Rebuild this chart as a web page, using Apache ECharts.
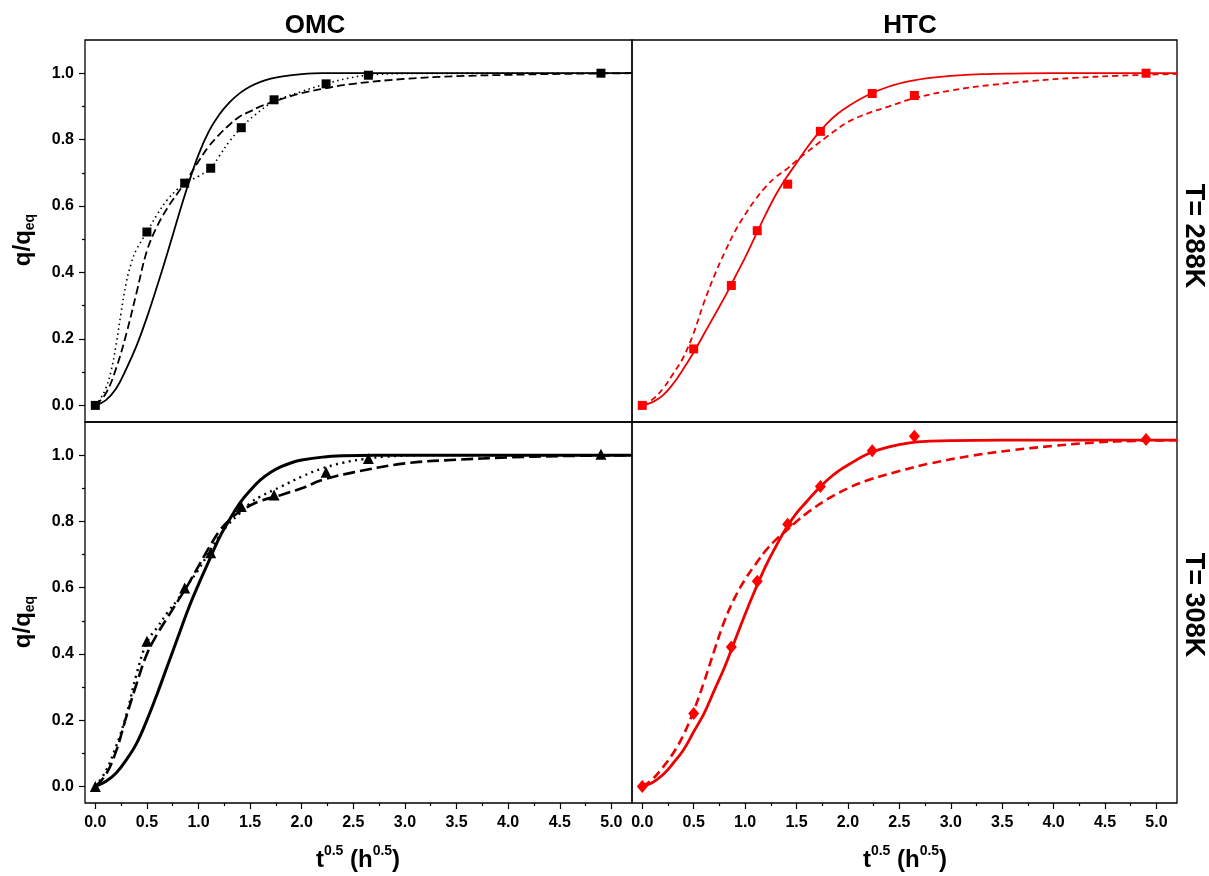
<!DOCTYPE html>
<html>
<head>
<meta charset="utf-8">
<script src="https://cdn.jsdelivr.net/npm/echarts@6/dist/echarts.min.js"></script>
<style>
html, body { margin: 0; padding: 0; background: #fff; }
#main { width: 1209px; height: 876px; }
</style>
</head>
<body>
<div id="main"></div>
<script>
// measured points: x = t^0.5 (h^0.5)
var tSqrt = [0, 0.5, 0.866, 1.118, 1.414, 1.732, 2.236, 2.646, 4.899];
var omc288 = [0, 0.522, 0.669, 0.714, 0.836, 0.920, 0.968, 0.994, 1.0];
var htc288 = [0, 0.170, 0.361, 0.526, 0.666, 0.825, 0.939, 0.933, 1.0];
var omc308 = [0, 0.438, 0.599, 0.705, 0.845, 0.880, 0.948, 0.990, 1.003];
var htc308 = [0, 0.220, 0.421, 0.619, 0.791, 0.905, 1.013, 1.057, 1.047];

// fitted curves as [x, y]
var omc288Solid = [[0,0],[0.1,0.015],[0.2,0.05],[0.3,0.11],[0.4,0.18],[0.5,0.265],[0.6,0.36],[0.7,0.46],[0.8,0.565],[0.9,0.665],[1.0,0.755],[1.1,0.825],[1.2,0.875],[1.3,0.912],[1.4,0.94],[1.5,0.96],[1.6,0.974],[1.7,0.984],[1.8,0.99],[2.0,0.997],[2.2,1.0],[5.2,1.0]];
var omc288Dash = [[0,0],[0.1,0.035],[0.2,0.11],[0.3,0.215],[0.4,0.34],[0.5,0.465],[0.6,0.54],[0.7,0.595],[0.8,0.64],[0.9,0.685],[1.0,0.735],[1.1,0.78],[1.2,0.815],[1.3,0.845],[1.4,0.87],[1.5,0.885],[1.6,0.9],[1.8,0.922],[2.0,0.94],[2.2,0.953],[2.5,0.968],[3.0,0.983],[3.5,0.991],[4.0,0.995],[4.5,0.998],[5.2,1.0]];
var omc288Dot = [[0,0],[0.05,0.02],[0.1,0.05],[0.15,0.1],[0.2,0.18],[0.25,0.28],[0.3,0.37],[0.35,0.43],[0.4,0.47],[0.5,0.522],[0.6,0.575],[0.7,0.62],[0.8,0.652],[0.866,0.669],[1.0,0.69],[1.118,0.714],[1.2,0.75],[1.3,0.795],[1.414,0.836],[1.55,0.875],[1.732,0.915],[2.0,0.945],[2.236,0.968],[2.45,0.985],[2.646,0.994],[3.0,0.999],[5.2,1.0]];

var htc288Solid = [[0,0],[0.1,0.01],[0.2,0.03],[0.3,0.065],[0.4,0.11],[0.5,0.16],[0.6,0.215],[0.7,0.27],[0.8,0.325],[0.9,0.385],[1.0,0.445],[1.1,0.51],[1.2,0.575],[1.3,0.635],[1.4,0.685],[1.5,0.73],[1.6,0.775],[1.7,0.815],[1.8,0.85],[1.9,0.878],[2.0,0.9],[2.2,0.935],[2.4,0.96],[2.6,0.976],[2.8,0.986],[3.0,0.992],[3.3,0.997],[3.6,0.999],[4.0,1.0],[5.2,1.0]];
var htc288Dash = [[0,0],[0.1,0.018],[0.2,0.05],[0.3,0.095],[0.4,0.145],[0.5,0.218],[0.6,0.31],[0.7,0.39],[0.8,0.46],[0.9,0.523],[1.0,0.575],[1.1,0.62],[1.2,0.658],[1.3,0.688],[1.4,0.71],[1.5,0.737],[1.6,0.762],[1.8,0.81],[2.0,0.853],[2.2,0.88],[2.4,0.9],[2.65,0.925],[3.0,0.948],[3.4,0.965],[3.8,0.977],[4.2,0.986],[4.6,0.992],[5.2,0.998]];

var omc308Solid = [[0,0],[0.1,0.015],[0.2,0.04],[0.3,0.08],[0.4,0.13],[0.5,0.2],[0.6,0.28],[0.7,0.365],[0.8,0.45],[0.9,0.535],[1.0,0.61],[1.1,0.68],[1.2,0.75],[1.3,0.805],[1.4,0.855],[1.5,0.893],[1.6,0.925],[1.7,0.948],[1.8,0.965],[1.9,0.977],[2.0,0.985],[2.2,0.994],[2.4,0.998],[2.7,1.0],[5.2,1.0]];
var omc308Dash = [[0,0],[0.1,0.035],[0.2,0.105],[0.3,0.21],[0.4,0.31],[0.5,0.4],[0.6,0.46],[0.7,0.51],[0.8,0.56],[0.9,0.61],[1.0,0.665],[1.1,0.72],[1.2,0.77],[1.3,0.805],[1.4,0.83],[1.5,0.848],[1.6,0.862],[1.8,0.88],[2.0,0.9],[2.2,0.925],[2.5,0.948],[3.0,0.975],[3.5,0.986],[4.0,0.993],[4.5,0.997],[5.2,1.0]];
var omc308Dot = [[0,0],[0.1,0.045],[0.2,0.12],[0.3,0.215],[0.4,0.34],[0.5,0.435],[0.6,0.48],[0.7,0.525],[0.8,0.565],[0.9,0.61],[1.0,0.655],[1.1,0.705],[1.2,0.755],[1.3,0.795],[1.4,0.825],[1.5,0.855],[1.6,0.875],[1.8,0.905],[2.0,0.935],[2.2,0.96],[2.4,0.977],[2.6,0.988],[2.8,0.995],[3.2,1.0],[5.2,1.0]];

var htc308Solid = [[0,0],[0.1,0.012],[0.2,0.035],[0.3,0.07],[0.4,0.11],[0.5,0.165],[0.6,0.22],[0.7,0.29],[0.8,0.36],[0.9,0.44],[1.0,0.52],[1.1,0.595],[1.2,0.665],[1.3,0.725],[1.4,0.78],[1.5,0.825],[1.6,0.86],[1.7,0.895],[1.8,0.925],[1.9,0.95],[2.0,0.97],[2.2,1.005],[2.4,1.025],[2.6,1.037],[2.8,1.042],[3.0,1.044],[3.5,1.045],[5.2,1.045]];
var htc308Dash = [[0,0],[0.1,0.022],[0.2,0.058],[0.3,0.1],[0.4,0.155],[0.5,0.228],[0.6,0.315],[0.7,0.41],[0.8,0.5],[0.9,0.57],[1.0,0.625],[1.1,0.67],[1.2,0.712],[1.3,0.745],[1.4,0.772],[1.5,0.8],[1.6,0.825],[1.8,0.867],[2.0,0.9],[2.2,0.925],[2.5,0.952],[2.8,0.975],[3.2,0.998],[3.6,1.015],[4.0,1.028],[4.4,1.038],[4.8,1.043],[5.2,1.045]];

// tick labels
var xTicks = [0, 0.5, 1.0, 1.5, 2.0, 2.5, 3.0, 3.5, 4.0, 4.5, 5.0];
var xMinor = [0.25, 0.75, 1.25, 1.75, 2.25, 2.75, 3.25, 3.75, 4.25, 4.75];
var yTicks = [0, 0.2, 0.4, 0.6, 0.8, 1.0];
var yMinor = [0.1, 0.3, 0.5, 0.7, 0.9];

var FONT = '"Liberation Sans", Arial, sans-serif';
var RED = '#ee0000';
var X_MIN = -0.1, X_MAX = 5.2, Y_MIN = -0.05, Y_MAX = 1.1;

var myChart = echarts.init(document.getElementById('main'));

function pairs(xs, ys) {
    return xs.map(function (x, i) { return [x, ys[i]]; });
}
function fmt(v) { return v.toFixed(1); }

var tickLine = {color: '#000', width: 1.2};
var labelStyle = {color: '#000', fontSize: 16, fontWeight: 'bold', fontFamily: FONT, formatter: fmt};

// x axes: 0-3 main (one per grid), 4-5 minor ticks for bottom grids
var xAxes = [0, 1, 2, 3].map(function (g) {
    var bottom = g >= 2;
    return {
        type: 'value', gridIndex: g, min: X_MIN, max: X_MAX, position: 'bottom',
        axisLine: {show: false, onZero: false},
        splitLine: {show: false},
        axisTick: {show: bottom, customValues: xTicks, length: 6, lineStyle: tickLine},
        axisLabel: Object.assign({show: bottom, customValues: xTicks, margin: 12}, labelStyle)
    };
});
[2, 3].forEach(function (g) {
    xAxes.push({
        type: 'value', gridIndex: g, min: X_MIN, max: X_MAX, position: 'bottom',
        axisLine: {show: false, onZero: false}, splitLine: {show: false}, axisLabel: {show: false},
        axisTick: {show: true, customValues: xMinor, length: 3, lineStyle: tickLine}
    });
});

var yAxes = [0, 1, 2, 3].map(function (g) {
    var left = g % 2 === 0;
    return {
        type: 'value', gridIndex: g, min: Y_MIN, max: Y_MAX, position: 'left',
        axisLine: {show: false, onZero: false},
        splitLine: {show: false},
        axisTick: {show: left, customValues: yTicks, length: 6, lineStyle: tickLine},
        axisLabel: Object.assign({show: left, customValues: yTicks, margin: 11}, labelStyle)
    };
});
[0, 2].forEach(function (g) {
    yAxes.push({
        type: 'value', gridIndex: g, min: Y_MIN, max: Y_MAX, position: 'left',
        axisLine: {show: false, onZero: false}, splitLine: {show: false}, axisLabel: {show: false},
        axisTick: {show: true, customValues: yMinor, length: 3, lineStyle: tickLine}
    });
});

function fit(g, data, color, width, dash) {
    return {
        type: 'line', xAxisIndex: g, yAxisIndex: g, data: data,
        showSymbol: false, symbol: 'none', smooth: 0.4,
        lineStyle: {color: color, width: width, type: dash || 'solid'},
        z: 2
    };
}
function pts(g, data, color, symbol, size) {
    return {
        type: 'scatter', xAxisIndex: g, yAxisIndex: g, data: data,
        symbol: symbol, symbolSize: size,
        itemStyle: {color: color, opacity: 1},
        z: 4
    };
}

function title(text, x, y, rot, size) {
    return {
        type: 'text', x: x, y: y, rotation: rot || 0,
        style: {text: text, fill: '#000', font: 'bold ' + (size || 26) + 'px ' + FONT, align: 'center', verticalAlign: 'middle'}
    };
}
var xName = '{a|t}{s|0.5}{a| (h}{s|0.5}{a|)}';
var yName = '{a|q/q}{b|eq}';
function richX() {
    return {
        a: {fontSize: 24, fontWeight: 'bold', fontFamily: FONT, fill: '#000', lineHeight: 28, verticalAlign: 'bottom'},
        s: {fontSize: 14, fontWeight: 'bold', fontFamily: FONT, fill: '#000', lineHeight: 14, verticalAlign: 'top'}
    };
}
function richY() {
    return {
        a: {fontSize: 24, fontWeight: 'bold', fontFamily: FONT, fill: '#000', lineHeight: 26, verticalAlign: 'top'},
        b: {fontSize: 14, fontWeight: 'bold', fontFamily: FONT, fill: '#000', lineHeight: 14, verticalAlign: 'bottom'}
    };
}
function richText(text, rich, x, y, rot) {
    return {
        type: 'text', x: x, y: y, rotation: rot || 0,
        style: {text: text, rich: rich, fill: '#000', align: 'center', verticalAlign: 'middle'}
    };
}

var option = {
    backgroundColor: '#fff',
    animation: false,
    grid: [
        {left: 85, top: 40, width: 547, height: 382},
        {left: 632, top: 40, width: 545, height: 382},
        {left: 85, top: 422, width: 547, height: 381},
        {left: 632, top: 422, width: 545, height: 381}
    ].map(function (g) {
        return Object.assign({show: true, borderColor: '#000', borderWidth: 1.3, backgroundColor: 'transparent'}, g);
    }),
    xAxis: xAxes,
    yAxis: yAxes,
    series: [
        // OMC 288K
        fit(0, omc288Dot, '#000', 1.6, [1.5, 3.5]),
        fit(0, omc288Dash, '#000', 1.8, [8, 4]),
        fit(0, omc288Solid, '#000', 1.8),
        pts(0, pairs(tSqrt, omc288), '#000', 'rect', 9),
        // HTC 288K
        fit(1, htc288Dash, RED, 1.8, [6, 4]),
        fit(1, htc288Solid, RED, 1.8),
        pts(1, pairs(tSqrt, htc288), '#ff0000', 'rect', 9),
        // OMC 308K
        fit(2, omc308Dot, '#000', 2.4, [2, 4.5]),
        fit(2, omc308Dash, '#000', 2.6, [12, 5]),
        fit(2, omc308Solid, '#000', 3),
        pts(2, pairs(tSqrt, omc308), '#000', 'triangle', 11),
        // HTC 308K
        fit(3, htc308Dash, RED, 2.6, [9, 5]),
        fit(3, htc308Solid, RED, 2.8),
        pts(3, pairs(tSqrt, htc308), '#ff0000', 'diamond', [11, 13])
    ],
    graphic: [
        title('OMC', 315, 26),
        title('HTC', 910, 26),
        title('T= 288K', 1193, 236, -Math.PI / 2, 27),
        title('T= 308K', 1193, 605, -Math.PI / 2, 27),
        richText(xName, richX(), 358, 858),
        richText(xName, richX(), 905, 858),
        richText(yName, richY(), 24, 240, Math.PI / 2),
        richText(yName, richY(), 24, 622, Math.PI / 2)
    ]
};

myChart.setOption(option);
</script>
</body>
</html>
